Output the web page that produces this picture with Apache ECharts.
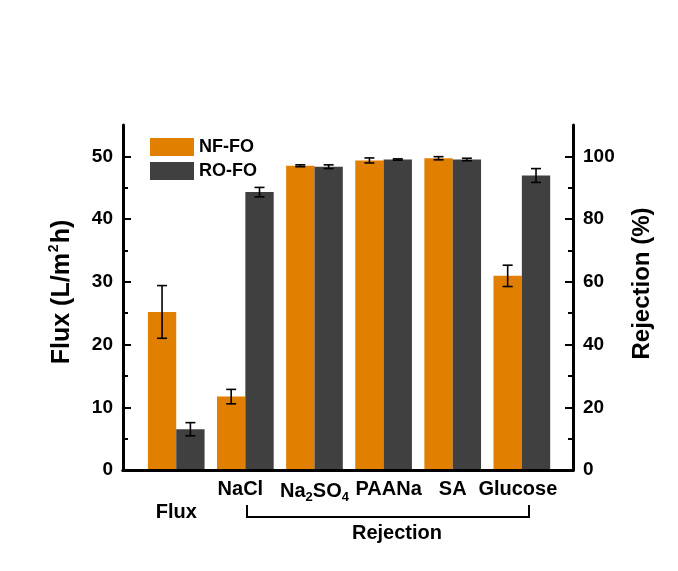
<!DOCTYPE html>
<html>
<head>
<meta charset="utf-8">
<script src="https://cdn.jsdelivr.net/npm/echarts@6/dist/echarts.min.js"></script>
<style>html,body{margin:0;padding:0;background:#fff;}#c{width:678px;height:571px;}</style>
</head>
<body>
<div id="c"></div>
<script>
// ---- data ----
const categories = ['Flux', 'NaCl', 'Na2SO4', 'PAANa', 'SA', 'Glucose'];
const groupPositions = [1, 2, 3, 4, 5, 6];
const fluxTicks = [0, 10, 20, 30, 40, 50];
const fluxMinorTicks = [5, 15, 25, 35, 45];
const rejectionTicks = [0, 20, 40, 60, 80, 100];
const rejectionMinorTicks = [10, 30, 50, 70, 90];
// Flux group (left axis, L/m2h)
const nfFlux = [25.2];
const nfFluxErr = [4.2];
const roFlux = [6.5];
const roFluxErr = [1.05];
// Rejection groups (right axis, %): NaCl, Na2SO4, PAANa, SA, Glucose
const nfRejection = [23.4, 97.0, 98.7, 99.4, 61.9];
const nfRejectionErr = [2.3, 0.3, 0.8, 0.5, 3.4];
const roRejection = [88.6, 96.7, 99.0, 99.0, 93.9];
const roRejectionErr = [1.5, 0.6, 0.2, 0.4, 2.2];

// ---- styling ----
const FONT = "'Liberation Sans', Arial, sans-serif";
const ORANGE = '#E07F00';
const GRAY = '#404040';
const BAR_W = 0.41; // bar width in x-axis units

function rows(pos, vals, errs) {
  return vals.map((v, i) => [pos[i], v, errs[i]]);
}
const fluxPos = groupPositions.slice(0, 1);
const rejPos = groupPositions.slice(1);

function makeRender(side) {
  return function (params, api) {
    const x = api.value(0), v = api.value(1), e = api.value(2);
    const base = api.coord([x, 0]);
    const top = api.coord([x + side * BAR_W, v]);
    const left = Math.min(base[0], top[0]);
    const w = Math.abs(top[0] - base[0]);
    const cx = left + w / 2;
    const hi = api.coord([x, v + e])[1];
    const lo = api.coord([x, v - e])[1];
    const cap = 5;
    const es = { stroke: '#000', lineWidth: 1.6 };
    return {
      type: 'group',
      children: [
        { type: 'rect', shape: { x: left, y: top[1], width: w, height: base[1] - top[1] }, style: { fill: api.visual('color') } },
        { type: 'line', shape: { x1: cx, y1: hi, x2: cx, y2: lo }, style: es },
        { type: 'line', shape: { x1: cx - cap, y1: hi, x2: cx + cap, y2: hi }, style: es },
        { type: 'line', shape: { x1: cx - cap, y1: lo, x2: cx + cap, y2: lo }, style: es }
      ]
    };
  };
}

const base20 = { fontFamily: FONT, fontWeight: 'bold', fontSize: 20, color: '#000' };
const labelRich = {
  n: base20,
  nl: Object.assign({ padding: [0, 10, 0, 0] }, base20),
  nr: Object.assign({ padding: [0, 0, 0, 10] }, base20),
  g: Object.assign({ padding: [0, 8, 0, 0] }, base20),
  s: { fontFamily: FONT, fontWeight: 'bold', fontSize: 13, color: '#000', padding: [12, 0, 0, 0] },
  f: Object.assign({ padding: [23, 0, 0, 0] }, base20)
};
function catLabel(val) {
  const name = categories[groupPositions.indexOf(Math.round(val))];
  if (name === 'Flux') return '{f|' + name + '}';
  if (name === 'Na2SO4') return '{n|Na}{s|2}{n|SO}{s|4}';
  if (name === 'NaCl') return '{nl|' + name + '}';
  if (name === 'PAANa') return '{nr|' + name + '}';
  if (name === 'Glucose') return '{g|' + name + '}';
  return '{n|' + name + '}';
}

const axisLineStyle = { show: true, lineStyle: { color: '#000', width: 3 } };
const tickLabelStyle = { fontFamily: FONT, fontWeight: 'bold', fontSize: 19, color: '#000' };

const option = {
  backgroundColor: '#fff',
  animation: false,
  grid: { left: 123, right: 105, top: 125, bottom: 101 },
  legend: {
    orient: 'vertical', left: 145, top: 133,
    itemWidth: 44, itemHeight: 18, itemGap: 6, icon: 'rect',
    data: ['NF-FO', 'RO-FO'],
    textStyle: { fontFamily: FONT, fontWeight: 'bold', fontSize: 18, color: '#000' }
  },
  xAxis: [
    {
      type: 'value', min: 0.23, max: 6.74, position: 'bottom', z: 10,
      axisLine: axisLineStyle, axisTick: { show: false }, splitLine: { show: false },
      axisLabel: { customValues: groupPositions, formatter: catLabel, rich: labelRich, margin: 9 }
    },
    {
      type: 'value', min: 0.23, max: 6.74, position: 'top', z: 10,
      axisLine: axisLineStyle, axisTick: { show: false }, splitLine: { show: false }, axisLabel: { show: false }
    }
  ],
  yAxis: [
    {
      type: 'value', position: 'left', min: 0, max: 55, z: 10,
      axisLine: axisLineStyle,
      axisTick: { inside: true, length: 8, lineStyle: { width: 2, color: '#000' }, customValues: fluxTicks },
      axisLabel: Object.assign({ customValues: fluxTicks, margin: 10 }, tickLabelStyle),
      splitLine: { show: false },
      name: '{a|Flux (L/m}{b|2}{a|h)}', nameLocation: 'middle', nameGap: 46, nameRotate: 90,
      nameTextStyle: {
        rich: {
          a: { fontFamily: FONT, fontWeight: 'bold', fontSize: 25, color: '#000' },
          b: { fontFamily: FONT, fontWeight: 'bold', fontSize: 14, color: '#000', padding: [0, 1, 16, 1] }
        },
        padding: [0, 0, 0, 11]
      }
    },
    {
      type: 'value', position: 'right', min: 0, max: 110, z: 10,
      axisLine: axisLineStyle,
      axisTick: { inside: true, length: 8, lineStyle: { width: 2, color: '#000' }, customValues: rejectionTicks },
      axisLabel: Object.assign({ customValues: rejectionTicks, margin: 10 }, tickLabelStyle),
      splitLine: { show: false },
      name: 'Rejection (%)', nameLocation: 'middle', nameGap: 57, nameRotate: 90,
      nameTextStyle: { fontFamily: FONT, fontWeight: 'bold', fontSize: 24, color: '#000', padding: [0, 0, 0, 28] }
    },
    {
      type: 'value', position: 'left', min: 0, max: 55, z: 10,
      axisLine: { show: false }, axisLabel: { show: false }, splitLine: { show: false },
      axisTick: { inside: true, length: 5, lineStyle: { width: 2, color: '#000' }, customValues: fluxMinorTicks }
    },
    {
      type: 'value', position: 'right', min: 0, max: 110, z: 10,
      axisLine: { show: false }, axisLabel: { show: false }, splitLine: { show: false },
      axisTick: { inside: true, length: 5, lineStyle: { width: 2, color: '#000' }, customValues: rejectionMinorTicks }
    }
  ],
  series: [
    { name: 'NF-FO', type: 'custom', xAxisIndex: 0, yAxisIndex: 0, itemStyle: { color: ORANGE },
      renderItem: makeRender(-1), encode: { x: 0, y: 1 }, data: rows(fluxPos, nfFlux, nfFluxErr) },
    { name: 'RO-FO', type: 'custom', xAxisIndex: 0, yAxisIndex: 0, itemStyle: { color: GRAY },
      renderItem: makeRender(1), encode: { x: 0, y: 1 }, data: rows(fluxPos, roFlux, roFluxErr) },
    { name: 'NF-FO', type: 'custom', xAxisIndex: 0, yAxisIndex: 1, itemStyle: { color: ORANGE },
      renderItem: makeRender(-1), encode: { x: 0, y: 1 }, data: rows(rejPos, nfRejection, nfRejectionErr) },
    { name: 'RO-FO', type: 'custom', xAxisIndex: 0, yAxisIndex: 1, itemStyle: { color: GRAY },
      renderItem: makeRender(1), encode: { x: 0, y: 1 }, data: rows(rejPos, roRejection, roRejectionErr) }
  ],
  graphic: [
    { type: 'polyline', shape: { points: [[247, 505], [247, 517], [529, 517], [529, 505]] },
      style: { stroke: '#000', lineWidth: 2, fill: null } },
    { type: 'text', x: 397, y: 533,
      style: { text: 'Rejection', fontFamily: FONT, fontWeight: 'bold', fontSize: 20, fill: '#000', align: 'center', verticalAlign: 'middle' } }
  ]
};

const chart = echarts.init(document.getElementById('c'), null, { renderer: 'canvas' });
chart.setOption(option);
</script>
</body>
</html>
